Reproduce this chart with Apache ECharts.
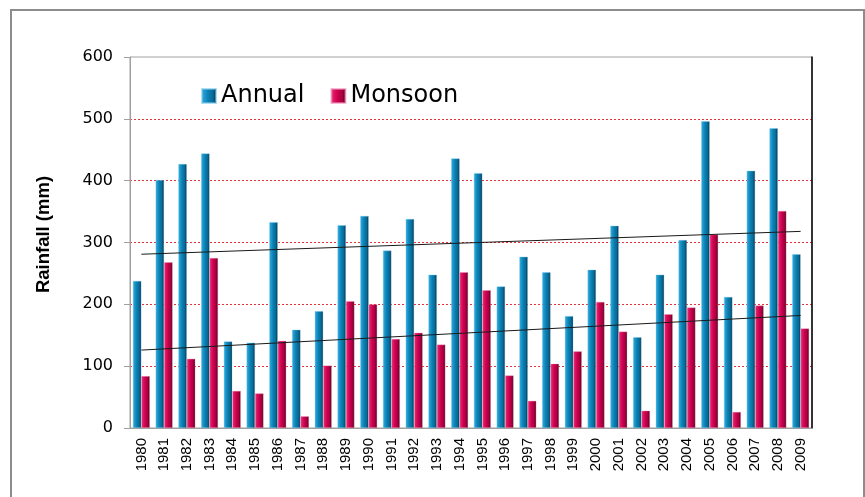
<!DOCTYPE html>
<html>
<head>
<meta charset="utf-8">
<script src="https://cdn.jsdelivr.net/npm/echarts@6/dist/echarts.min.js"></script>
<style>html,body{margin:0;padding:0;background:#fff}#c{width:865px;height:497px}</style>
</head>
<body>
<div id="c"></div>
<script>
var years = ['1980','1981','1982','1983','1984','1985','1986','1987','1988','1989','1990','1991','1992','1993','1994','1995','1996','1997','1998','1999','2000','2001','2002','2003','2004','2005','2006','2007','2008','2009'];
var annual = [238,401,427,444,140,138,333,159,189,328,343,287,338,248,436,412,229,277,252,181,256,327,147,248,304,496,212,416,485,281];
var monsoon = [84,268,112,275,60,56,141,19,101,205,200,144,154,135,252,223,85,44,104,124,204,156,28,184,195,313,26,198,351,161];
var annualTrend = [['1980',281],['2009',318]];
var monsoonTrend = [['1980',126],['2009',182]];
var yTicks = [0,100,200,300,400,500,600];

var FONT = 'Liberation Sans, Arial, sans-serif';
var WIDE = 'DejaVu Sans, sans-serif';
function grad(c0,c1,c2,c3){
  return new echarts.graphic.LinearGradient(0,0,1,0,[
    {offset:0,color:c0},{offset:0.45,color:c1},{offset:0.75,color:c2},{offset:1,color:c3}]);
}
var chart = echarts.init(document.getElementById('c'), null, {renderer:'canvas'});
chart.setOption({
  animation:false,
  backgroundColor:'#fff',
  textStyle:{fontFamily:FONT},
  graphic:[{type:'rect',shape:{x:11,y:10,width:853,height:500},style:{fill:'none',stroke:'#8c8c8c',lineWidth:2},silent:true}],
  grid:{left:130,right:53,top:57,bottom:69,show:true,borderColor:'#a0a0a0',borderWidth:1,backgroundColor:'transparent'},
  legend:{
    data:[{name:'Annual',icon:'rect'},{name:'Monsoon',icon:'rect'}],
    left:201,top:84,padding:0,itemWidth:14,itemHeight:14,itemGap:26,
    textStyle:{fontSize:24,color:'#000',fontFamily:WIDE}
  },
  xAxis:{
    type:'category',data:years,
    axisLine:{show:true,lineStyle:{color:'#a0a0a0',width:1}},
    axisTick:{show:false},
    axisLabel:{rotate:90,fontSize:15,color:'#000',margin:10,fontFamily:FONT,interval:0}
  },
  yAxis:[{
    type:'value',min:0,max:600,interval:100,
    name:'Rainfall (mm)',nameLocation:'middle',nameGap:77,nameRotate:90,
    nameTextStyle:{fontSize:18.5,fontWeight:'bold',color:'#000',fontFamily:FONT,padding:[0,0,0,16]},
    axisLine:{show:true,lineStyle:{color:'#a0a0a0'}},
    axisTick:{show:true,length:6,lineStyle:{color:'#a0a0a0'}},
    axisLabel:{fontSize:16,color:'#000',margin:17,fontFamily:WIDE,
      formatter:function(v){return yTicks.indexOf(v)>=0?String(v):'';}},
    splitLine:{show:true,showMaxLine:false,lineStyle:{color:'#e8323a',type:[2,2],width:1}}
  },{
    type:'value',min:0,max:600,interval:100,position:'right',
    axisLine:{show:true,lineStyle:{color:'#000',width:1.5}},
    axisTick:{show:false},axisLabel:{show:false},splitLine:{show:false}
  }],
  series:[
    {name:'Annual',type:'bar',data:annual,barWidth:8.5,barGap:'0%',
      itemStyle:{color:grad('#32aee0','#0a80b4','#086a96','#06273a'),borderColor:'rgba(120,200,235,0.6)',borderWidth:0.6}},
    {name:'Monsoon',type:'bar',data:monsoon,barWidth:8.5,barGap:'0%',
      itemStyle:{color:grad('#ee2a74','#cc0050','#a8003f','#3c0016'),borderColor:'rgba(240,140,180,0.6)',borderWidth:0.6}},
    {name:'AnnualTrend',type:'line',data:annualTrend,symbol:'none',z:5,
      lineStyle:{color:'#1a1a1a',width:1},silent:true},
    {name:'MonsoonTrend',type:'line',data:monsoonTrend,symbol:'none',z:5,
      lineStyle:{color:'#1a1a1a',width:1},silent:true}
  ]
});
</script>
</body>
</html>
